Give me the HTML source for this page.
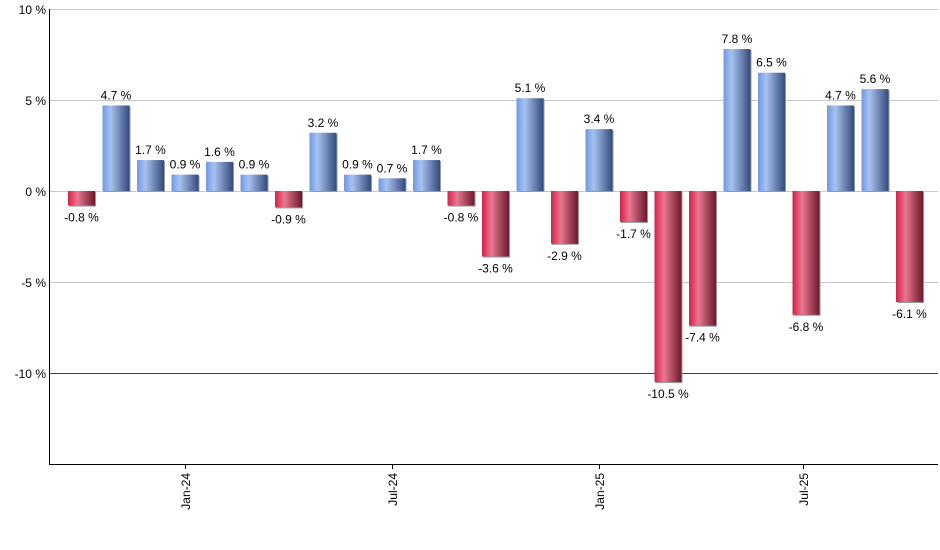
<!DOCTYPE html>
<html><head><meta charset="utf-8"><style>body{margin:0;background:#fff}svg{display:block}</style></head>
<body>
<svg width="940" height="550" viewBox="0 0 940 550" xmlns="http://www.w3.org/2000/svg" font-family="Liberation Sans, sans-serif" font-size="12">
<defs>
<linearGradient id="b" x1="0" x2="1" y1="0" y2="0">
<stop offset="0" stop-color="#6e98e6"/><stop offset="0.3" stop-color="#a8c2ee"/><stop offset="1" stop-color="#344a7c"/></linearGradient>
<linearGradient id="r" x1="0" x2="1" y1="0" y2="0">
<stop offset="0" stop-color="#d91e48"/><stop offset="0.35" stop-color="#e77890"/><stop offset="1" stop-color="#6a1a2c"/></linearGradient>
</defs>
<g stroke="#c8c8c8" stroke-width="1">
<line x1="50" x2="938" y1="9.5" y2="9.5"/><line x1="50" x2="938" y1="100.5" y2="100.5"/><line x1="50" x2="938" y1="191.5" y2="191.5"/><line x1="50" x2="938" y1="282.5" y2="282.5"/>
</g>
<line x1="50" x2="938" y1="373.5" y2="373.5" stroke="#1a5a1a"/>
<g text-anchor="end" fill="#000">
<text x="46" y="14">10 %</text><text x="46" y="105">5 %</text><text x="46" y="196">0 %</text><text x="46" y="287">-5 %</text><text x="46" y="378">-10 %</text>
</g>
<g fill="#999">
<rect x="69" y="192" width="27" height="14.56"/>
<rect x="103.5" y="106.46" width="27" height="85.54"/>
<rect x="138" y="161.06" width="27" height="30.94"/>
<rect x="172.5" y="175.62" width="27" height="16.38"/>
<rect x="207" y="162.88" width="27" height="29.12"/>
<rect x="241.5" y="175.62" width="27" height="16.38"/>
<rect x="276" y="192" width="27" height="16.38"/>
<rect x="310.5" y="133.76" width="27" height="58.24"/>
<rect x="345" y="175.62" width="27" height="16.38"/>
<rect x="379.5" y="179.26" width="27" height="12.74"/>
<rect x="414" y="161.06" width="27" height="30.94"/>
<rect x="448.5" y="192" width="27" height="14.56"/>
<rect x="483" y="192" width="27" height="65.52"/>
<rect x="517.5" y="99.18" width="27" height="92.82"/>
<rect x="552" y="192" width="27" height="52.78"/>
<rect x="586.5" y="130.12" width="27" height="61.88"/>
<rect x="621" y="192" width="27" height="30.94"/>
<rect x="655.5" y="192" width="27" height="191.1"/>
<rect x="690" y="192" width="27" height="134.68"/>
<rect x="724.5" y="50.04" width="27" height="141.96"/>
<rect x="759" y="73.7" width="27" height="118.3"/>
<rect x="793.5" y="192" width="27" height="123.76"/>
<rect x="828" y="106.46" width="27" height="85.54"/>
<rect x="862.5" y="90.08" width="27" height="101.92"/>
<rect x="897" y="192" width="27" height="111.02"/>
</g>
<rect x="68" y="191" width="27" height="14.56" fill="url(#r)"/>
<rect x="102.5" y="105.46" width="27" height="85.54" fill="url(#b)"/>
<rect x="137" y="160.06" width="27" height="30.94" fill="url(#b)"/>
<rect x="171.5" y="174.62" width="27" height="16.38" fill="url(#b)"/>
<rect x="206" y="161.88" width="27" height="29.12" fill="url(#b)"/>
<rect x="240.5" y="174.62" width="27" height="16.38" fill="url(#b)"/>
<rect x="275" y="191" width="27" height="16.38" fill="url(#r)"/>
<rect x="309.5" y="132.76" width="27" height="58.24" fill="url(#b)"/>
<rect x="344" y="174.62" width="27" height="16.38" fill="url(#b)"/>
<rect x="378.5" y="178.26" width="27" height="12.74" fill="url(#b)"/>
<rect x="413" y="160.06" width="27" height="30.94" fill="url(#b)"/>
<rect x="447.5" y="191" width="27" height="14.56" fill="url(#r)"/>
<rect x="482" y="191" width="27" height="65.52" fill="url(#r)"/>
<rect x="516.5" y="98.18" width="27" height="92.82" fill="url(#b)"/>
<rect x="551" y="191" width="27" height="52.78" fill="url(#r)"/>
<rect x="585.5" y="129.12" width="27" height="61.88" fill="url(#b)"/>
<rect x="620" y="191" width="27" height="30.94" fill="url(#r)"/>
<rect x="654.5" y="191" width="27" height="191.1" fill="url(#r)"/>
<rect x="689" y="191" width="27" height="134.68" fill="url(#r)"/>
<rect x="723.5" y="49.04" width="27" height="141.96" fill="url(#b)"/>
<rect x="758" y="72.7" width="27" height="118.3" fill="url(#b)"/>
<rect x="792.5" y="191" width="27" height="123.76" fill="url(#r)"/>
<rect x="827" y="105.46" width="27" height="85.54" fill="url(#b)"/>
<rect x="861.5" y="89.08" width="27" height="101.92" fill="url(#b)"/>
<rect x="896" y="191" width="27" height="111.02" fill="url(#r)"/>
<g text-anchor="middle" fill="#000">
<text x="81.5" y="221.6">-0.8 %</text>
<text x="116" y="99.5">4.7 %</text>
<text x="150.5" y="154">1.7 %</text>
<text x="185" y="168.6">0.9 %</text>
<text x="219.5" y="155.9">1.6 %</text>
<text x="254" y="168.6">0.9 %</text>
<text x="288.5" y="223.4">-0.9 %</text>
<text x="323" y="126.8">3.2 %</text>
<text x="357.5" y="168.6">0.9 %</text>
<text x="392" y="172.3">0.7 %</text>
<text x="426.5" y="154">1.7 %</text>
<text x="461" y="221.6">-0.8 %</text>
<text x="495.5" y="272.5">-3.6 %</text>
<text x="530" y="92.2">5.1 %</text>
<text x="564.5" y="259.8">-2.9 %</text>
<text x="599" y="123.1">3.4 %</text>
<text x="633.5" y="237.9">-1.7 %</text>
<text x="668" y="398.1">-10.5 %</text>
<text x="702.5" y="341.7">-7.4 %</text>
<text x="737" y="43">7.8 %</text>
<text x="771.5" y="66.7">6.5 %</text>
<text x="806" y="330.8">-6.8 %</text>
<text x="840.5" y="99.5">4.7 %</text>
<text x="875" y="83.1">5.6 %</text>
<text x="909.5" y="318">-6.1 %</text>
</g>
<line x1="49.5" x2="49.5" y1="9" y2="464" stroke="#000"/>
<line x1="49" x2="938" y1="464.5" y2="464.5" stroke="#000"/>
<g stroke="#000"><line x1="185.5" x2="185.5" y1="464" y2="469"/><line x1="392.5" x2="392.5" y1="464" y2="469"/><line x1="599.5" x2="599.5" y1="464" y2="469"/><line x1="803.5" x2="803.5" y1="464" y2="469"/></g>
<g text-anchor="end">
<text transform="translate(190,473) rotate(-90)">Jan-24</text>
<text transform="translate(397,473) rotate(-90)">Jul-24</text>
<text transform="translate(604,473) rotate(-90)">Jan-25</text>
<text transform="translate(808,473) rotate(-90)">Jul-25</text>
</g>
</svg>
</body></html>
